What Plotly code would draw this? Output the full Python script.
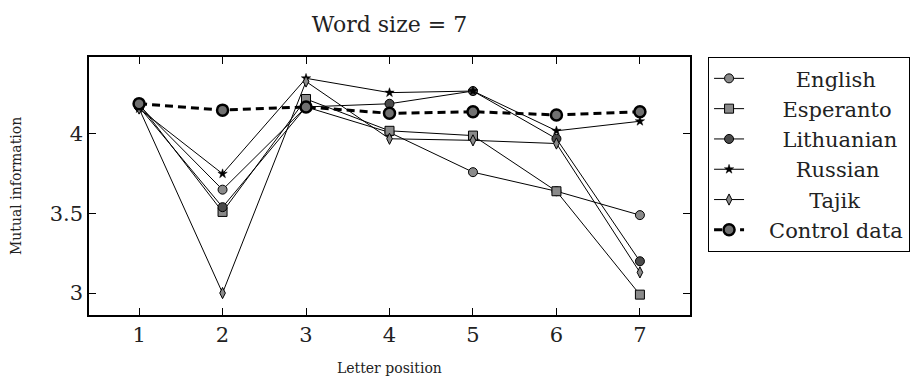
import plotly.graph_objects as go

# Letter positions within a 7-letter word
positions = [1, 2, 3, 4, 5, 6, 7]

# Mutual information per letter position, one list per language
english = [4.18, 3.65, 4.17, 4.01, 3.76, 3.64, 3.49]
esperanto = [4.19, 3.51, 4.22, 4.02, 3.99, 3.64, 2.99]
lithuanian = [4.17, 3.54, 4.17, 4.19, 4.27, 3.97, 3.20]
russian = [4.16, 3.75, 4.35, 4.26, 4.27, 4.02, 4.08]
tajik = [4.16, 3.00, 4.33, 3.97, 3.96, 3.94, 3.13]
control = [4.19, 4.15, 4.17, 4.13, 4.14, 4.12, 4.14]

y_ticks = [3, 3.5, 4]
y_tick_labels = ["3", "3.5", "4"]

SERIF = "DejaVu Serif"
TEXT = "#222222"
NBSP = "\u00a0"


def centred(label, lead):
    """Legend label padded with non-breaking spaces so it sits centred."""
    return NBSP * lead + label


series = [
    (centred("English", 7), english,
     dict(symbol="circle", size=9, color="#8a8a8a",
          line=dict(color="black", width=1))),
    (centred("Esperanto", 5), esperanto,
     dict(symbol="square", size=9, color="#8a8a8a",
          line=dict(color="black", width=1))),
    (centred("Lithuanian", 5), lithuanian,
     dict(symbol="circle", size=9, color="#4a4a4a",
          line=dict(color="black", width=1))),
    (centred("Russian", 7), russian,
     dict(symbol="star", size=7, color="black",
          line=dict(color="black", width=0.5))),
    (centred("Tajik", 9), tajik,
     dict(symbol="diamond-tall", size=8, color="#8a8a8a",
          line=dict(color="black", width=1))),
]

fig = go.Figure()
for name, values, marker in series:
    fig.add_trace(go.Scatter(
        x=positions, y=values, name=name, mode="lines+markers",
        line=dict(color="black", width=1), marker=marker,
    ))

fig.add_trace(go.Scatter(
    x=positions, y=control, name=centred("Control data", 3),
    mode="lines+markers",
    line=dict(color="black", width=3, dash="8px,5px"),
    marker=dict(symbol="circle", size=11, color="#707070",
                line=dict(color="black", width=2.5)),
))

fig.update_layout(
    width=921, height=378,
    margin=dict(l=89, r=230, t=57, b=63),
    paper_bgcolor="white", plot_bgcolor="white",
    font=dict(family=SERIF, color=TEXT, size=21),
    title=dict(text="Word size = 7", x=0.5, xref="paper", xanchor="center",
               y=0.935, yref="container", yanchor="middle",
               font=dict(family=SERIF, size=22, color=TEXT)),
    legend=dict(
        x=1.028, xanchor="left", y=1.0, yanchor="top",
        bordercolor="black", borderwidth=1.2, bgcolor="white",
        font=dict(family=SERIF, size=21, color=TEXT),
        itemwidth=30, tracegroupgap=0,
    ),
    showlegend=True,
    annotations=[
        dict(text="Letter position", xref="paper", yref="paper",
             x=0.5, y=0, yshift=-53, xanchor="center", yanchor="middle",
             showarrow=False, font=dict(family=SERIF, size=14, color=TEXT)),
        dict(text="Mutual information", xref="paper", yref="paper",
             x=0, y=0.5, xshift=-73, xanchor="center", yanchor="middle",
             textangle=-90, showarrow=False,
             font=dict(family=SERIF, size=14, color=TEXT)),
    ],
)

fig.update_xaxes(
    range=[0.4, 7.6], tickvals=positions,
    ticktext=[str(p) for p in positions],
    showgrid=False, zeroline=False, automargin=False,
    showline=True, linecolor="black", linewidth=1.5, mirror="ticks",
    ticks="inside", ticklen=7, tickcolor="black", tickwidth=1,
    tickfont=dict(family=SERIF, size=21, color=TEXT),
)
fig.update_yaxes(
    range=[2.862, 4.484], tickvals=y_ticks, ticktext=y_tick_labels,
    showgrid=False, zeroline=False, automargin=False,
    showline=True, linecolor="black", linewidth=1.5, mirror="ticks",
    ticks="inside", ticklen=7, tickcolor="black", tickwidth=1,
    tickfont=dict(family=SERIF, size=21, color=TEXT),
)

fig.write_html("out.html")
